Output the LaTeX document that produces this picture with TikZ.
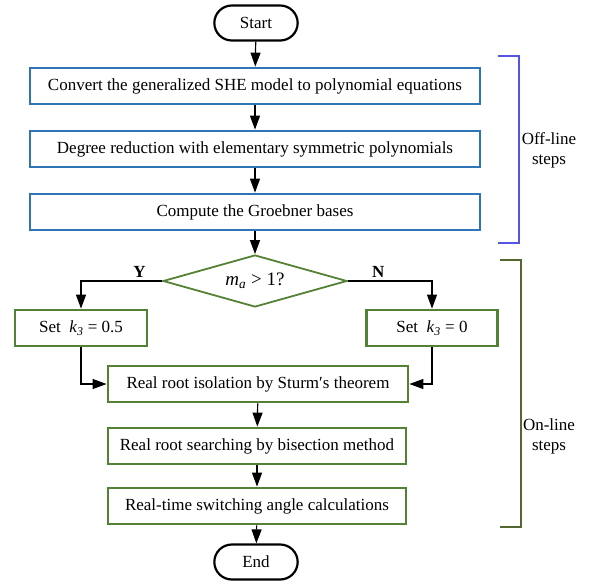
\documentclass[tikz,border=0pt]{standalone}
\usepackage{fontspec}
\setmainfont{Liberation Serif}
\usetikzlibrary{positioning, arrows.meta, shapes.geometric, shapes.misc}
\definecolor{boxblue}{RGB}{46,117,182}
\definecolor{boxgreen}{RGB}{84,130,53}
\definecolor{brablue}{RGB}{85,85,225}
\definecolor{bragreen}{RGB}{84,105,50}
\tikzset{
	x=1pt, y=-1pt, % Coordenadas en pixeles
	>={Triangle[length=14pt,width=10pt]}, % Punta de flecha rellena
	every node/.style={font=\fontsize{17}{20}\selectfont}, % Letra de los nodos
	term/.style={draw, rounded rectangle, line width=2.2pt, minimum width=90, minimum height=35}, % Inicio y fin
	offbox/.style={draw=boxblue, line width=2.8pt, minimum width=450, minimum height=36}, % Pasos fuera de linea
	onbox/.style={draw=boxgreen, line width=2.8pt, minimum height=36}, % Pasos en linea
	decision/.style={draw=boxgreen, line width=1.8pt, diamond, aspect=3.5, minimum width=184, minimum height=52, inner sep=0pt}, % Condicion
	flow/.style={->, line width=1.2pt} % Conectores
}

\begin{document}
\begin{tikzpicture}
	\useasboundingbox (0,0) rectangle (597,587);
	% nodos del diagrama
	\node[term] (start) at (256,23) {Start};
	\node[offbox] (conv) at (255,86) {Convert the generalized SHE model to polynomial equations};
	\node[offbox] (deg) at (255,149) {Degree reduction with elementary symmetric polynomials};
	\node[offbox] (grob) at (255,212) {Compute the Groebner bases};
	\node[decision, font=\fontsize{19}{22}\selectfont] (dec) at (255,281) {\textit{m}\textsubscript{\textit{a}} > 1?};
	\node[onbox, minimum width=132] (setY) at (81,328) {Set~ \textit{k}\textsubscript{\textit{3}} = 0.5};
	\node[onbox, minimum width=131] (setN) at (432,328) {Set~ \textit{k}\textsubscript{\textit{3}} = 0};
	\node[onbox, minimum width=300] (iso) at (258,384) {Real root isolation by Sturm′s theorem};
	\node[onbox, minimum width=298] (bis) at (257,446) {Real root searching by bisection method};
	\node[onbox, minimum width=298] (ang) at (257,506) {Real-time switching angle calculations};
	\node[term] (end) at (256,562) {End};
	% conectores
	\draw[flow] (start) -- (conv);
	\draw[flow] (conv) -- (deg);
	\draw[flow] (deg) -- (grob);
	\draw[flow] (grob) -- (dec);
	\draw[flow] (dec.west) -| node[pos=0.14, above, font=\fontsize{17}{20}\selectfont\bfseries] {Y} (setY.north);
	\draw[flow] (dec.east) -| node[pos=0.18, above, font=\fontsize{17}{20}\selectfont\bfseries] {N} (setN.north);
	\draw[flow] (setY.south) |- (iso.west);
	\draw[flow] (setN.south) |- (iso.east);
	\draw[flow] (iso) -- (bis);
	\draw[flow] (bis) -- (ang);
	\draw[flow] (ang) -- (end);
	% llaves laterales
	\draw[brablue, line width=1.5pt] (498,56) -- (519,56) -- (519,243) -- (498,243);
	\draw[bragreen, line width=1.5pt] (500,260) -- (521,260) -- (521,527) -- (500,527);
	\node[align=center] (offl) at (549,150) {Off-line\\steps};
	\node[align=center] (onl) at (549,436) {On-line\\steps};
\end{tikzpicture}
\end{document}
